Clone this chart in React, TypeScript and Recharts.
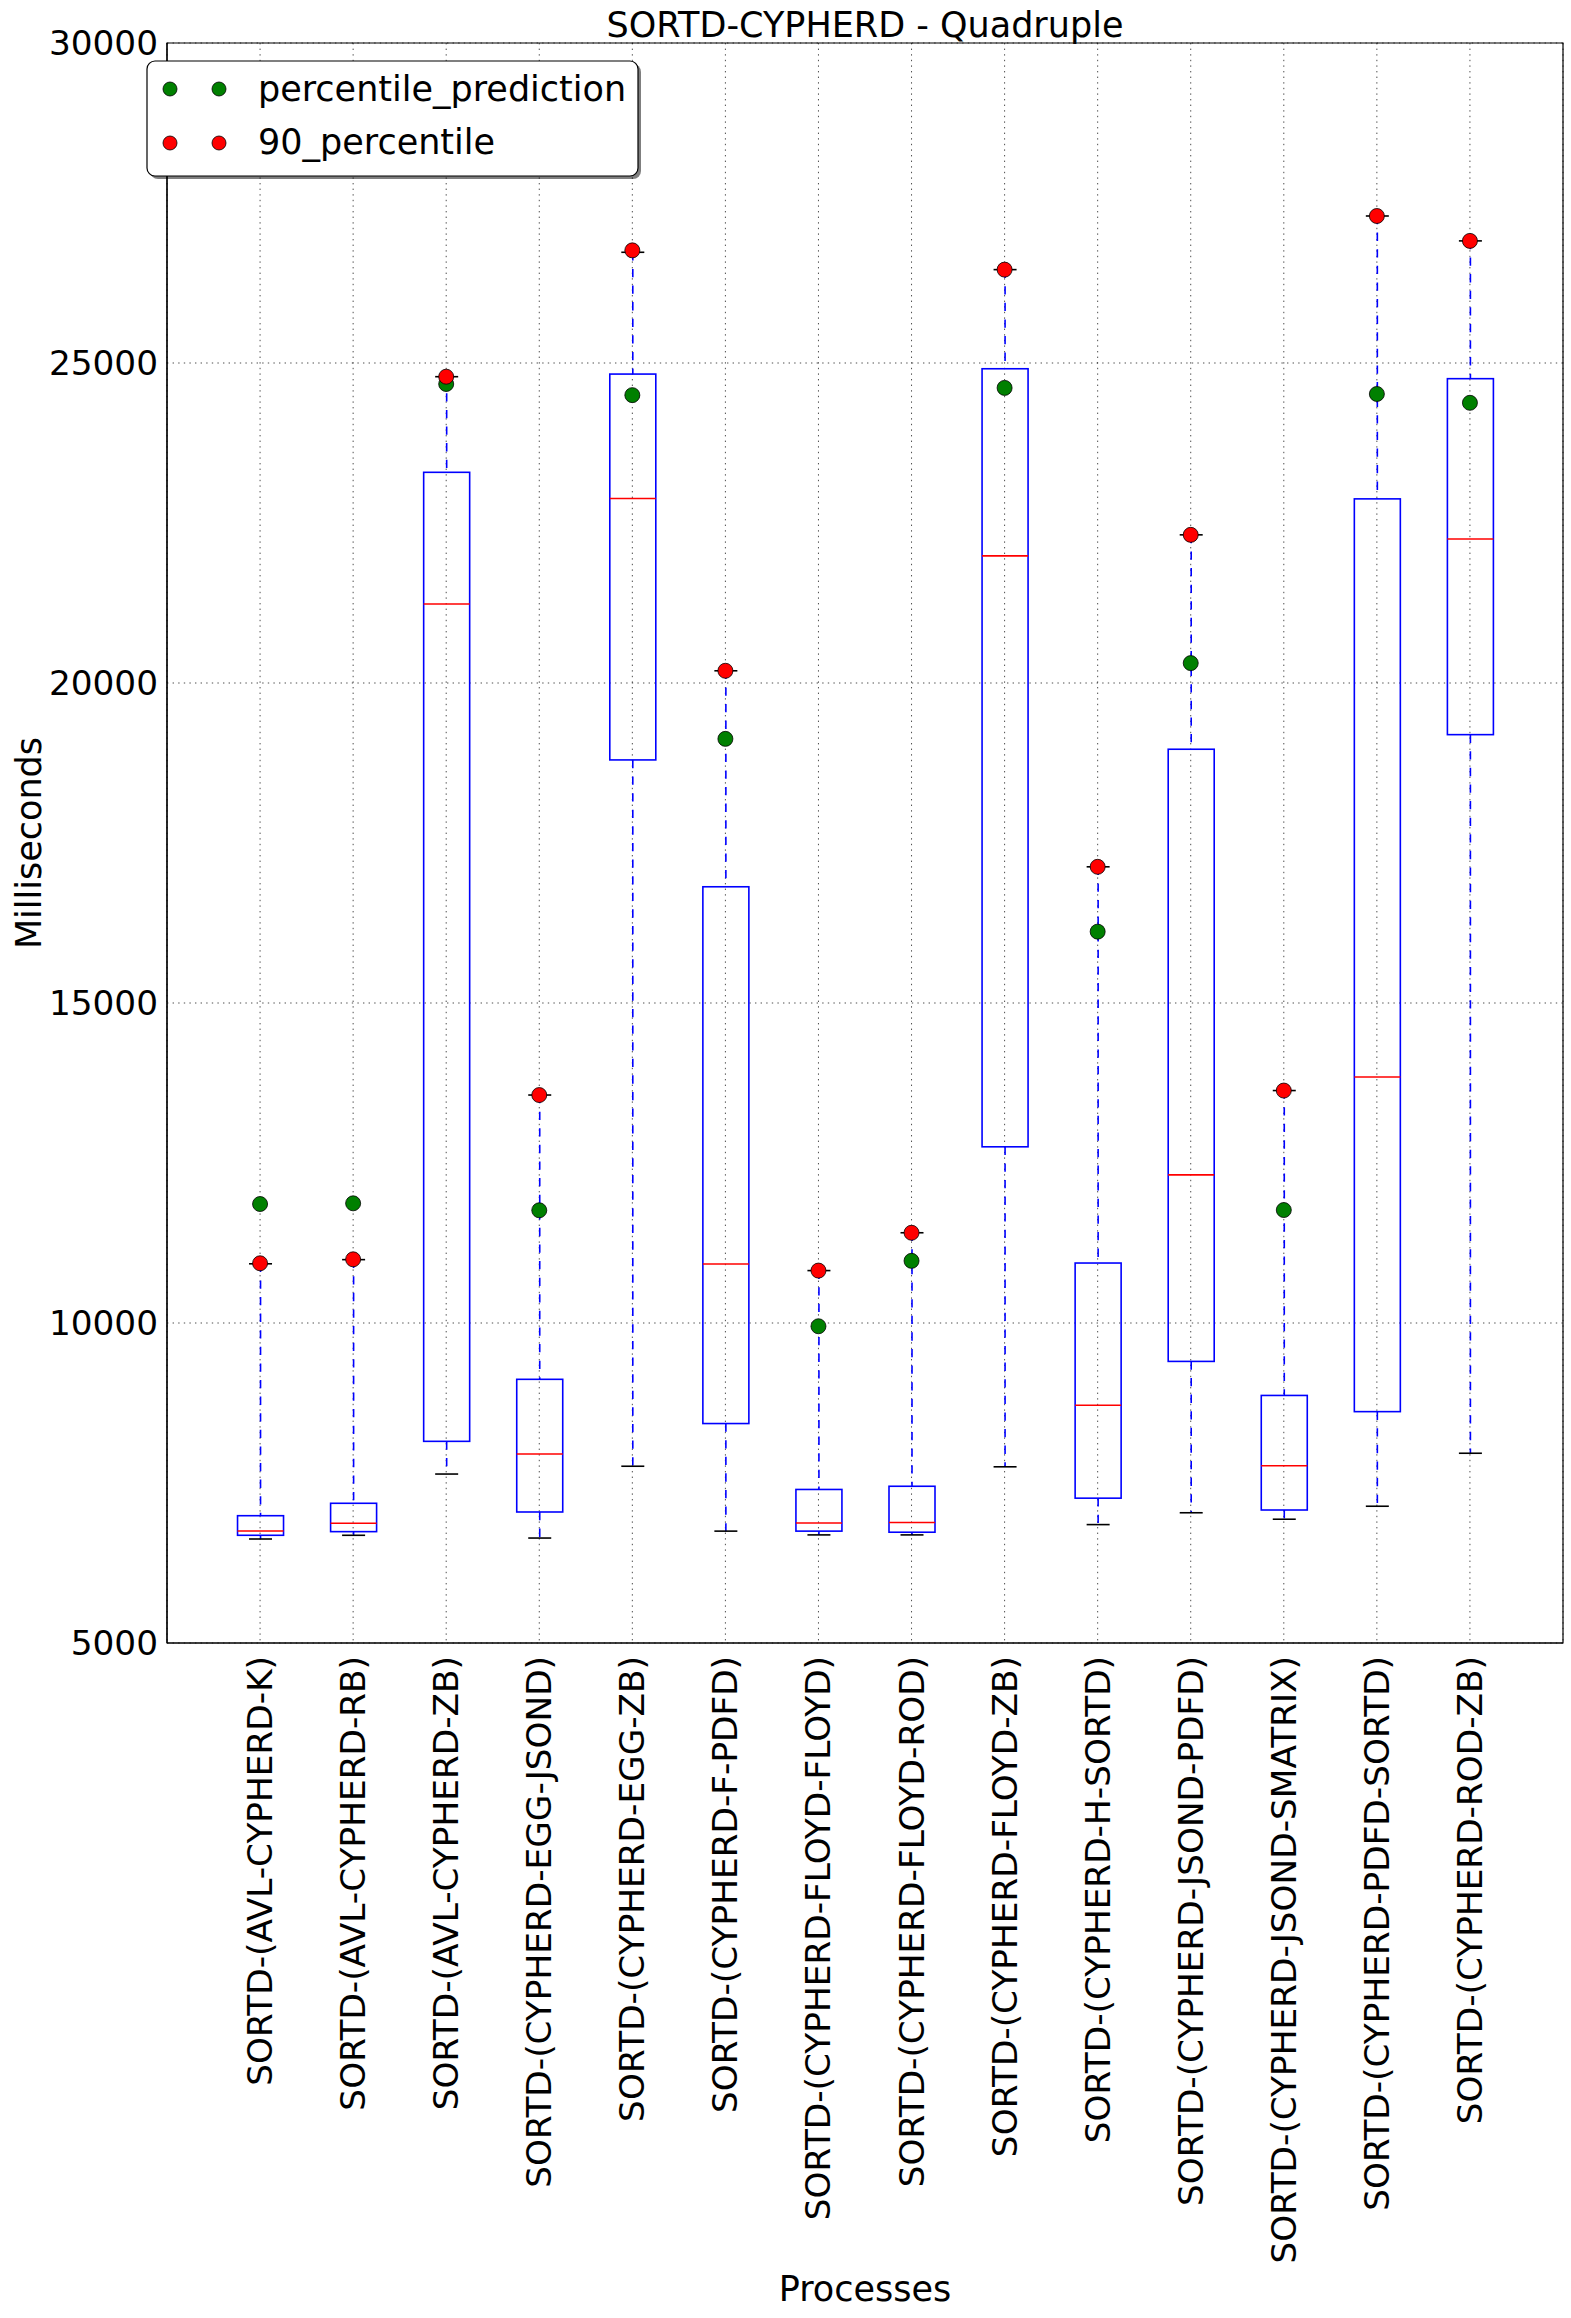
import React from "react";
import {
  ComposedChart,
  Bar,
  Scatter,
  XAxis,
  YAxis,
  CartesianGrid,
  ReferenceArea,
} from "recharts";

const CATEGORIES = [
  "SORTD-(AVL-CYPHERD-K)",
  "SORTD-(AVL-CYPHERD-RB)",
  "SORTD-(AVL-CYPHERD-ZB)",
  "SORTD-(CYPHERD-EGG-JSOND)",
  "SORTD-(CYPHERD-EGG-ZB)",
  "SORTD-(CYPHERD-F-PDFD)",
  "SORTD-(CYPHERD-FLOYD-FLOYD)",
  "SORTD-(CYPHERD-FLOYD-ROD)",
  "SORTD-(CYPHERD-FLOYD-ZB)",
  "SORTD-(CYPHERD-H-SORTD)",
  "SORTD-(CYPHERD-JSOND-PDFD)",
  "SORTD-(CYPHERD-JSOND-SMATRIX)",
  "SORTD-(CYPHERD-PDFD-SORTD)",
  "SORTD-(CYPHERD-ROD-ZB)",
];

const WHISKER_LOW = [6625, 6683, 7640, 6640, 7762, 6748, 6689, 6689, 7753, 6850, 7035, 6934, 7137, 7965];
const Q1 = [6683, 6740, 8151, 7047, 18798, 8429, 6748, 6731, 12753, 7263, 9400, 7078, 8615, 19193];
const MEDIAN = [6750, 6870, 21234, 7953, 22883, 10921, 6875, 6883, 21986, 8716, 12314, 7770, 13843, 22249];
const Q3 = [6989, 7183, 23292, 9120, 24827, 16816, 7399, 7449, 24910, 10937, 18965, 8868, 22877, 24755];
const WHISKER_HIGH = [10925, 10990, 24786, 13562, 26730, 20191, 10819, 11410, 26459, 17128, 22315, 13632, 27297, 26908];
const PERCENTILE_PREDICTION = [11859, 11870, 24672, 11761, 24498, 19127, 9949, 10971, 24611, 16115, 20311, 11765, 24516, 24378];
const PERCENTILE_90 = [10933, 10995, 24786, 13562, 26760, 20191, 10819, 11410, 26459, 17128, 22315, 13632, 27297, 26908];

const Y_TICKS = [5000, 10000, 15000, 20000, 25000, 30000];
const POSITIONS = CATEGORIES.map((_, i) => i + 1);

const rows = CATEGORIES.map((name, i) => ({
  name,
  pos: i + 1,
  whisker: [WHISKER_LOW[i], WHISKER_HIGH[i]],
  q1: Q1[i],
  median: MEDIAN[i],
  q3: Q3[i],
  pred: PERCENTILE_PREDICTION[i],
  p90: PERCENTILE_90[i],
}));

const FONT = "'DejaVu Sans', sans-serif";

function BoxShape(props: any) {
  const { x, y, width, height, payload } = props;
  if (!payload) return null;
  const [lo, hi] = payload.whisker;
  const top = Math.min(y, y + height);
  const h = Math.abs(height);
  const py = (v: number) => top + ((hi - v) / (hi - lo)) * h;
  const cx = x + width / 2;
  const capHalf = width / 4;
  const yq1 = py(payload.q1);
  const yq3 = py(payload.q3);
  const ymed = py(payload.median);
  const ylo = py(lo);
  const yhi = py(hi);
  return (
    <g>
      <line x1={cx} x2={cx} y1={yhi} y2={yq3} stroke="#0000ff" strokeWidth={1.6} strokeDasharray="8.3 8.3" />
      <line x1={cx} x2={cx} y1={yq1} y2={ylo} stroke="#0000ff" strokeWidth={1.6} strokeDasharray="8.3 8.3" />
      <line x1={cx - capHalf} x2={cx + capHalf} y1={yhi} y2={yhi} stroke="#000" strokeWidth={1.6} />
      <line x1={cx - capHalf} x2={cx + capHalf} y1={ylo} y2={ylo} stroke="#000" strokeWidth={1.6} />
      <rect x={x} y={yq3} width={width} height={yq1 - yq3} fill="none" stroke="#0000ff" strokeWidth={1.6} />
      <line x1={x} x2={x + width} y1={ymed} y2={ymed} stroke="#ff0000" strokeWidth={1.6} />
    </g>
  );
}

function Dot(color: string) {
  return (props: any) => {
    const { cx, cy } = props;
    if (cx == null || cy == null) return null;
    return <circle cx={cx} cy={cy} r={7.5} fill={color} stroke="#000" strokeWidth={0.8} />;
  };
}

function XTick(props: any) {
  const { x, y, payload } = props;
  const label = CATEGORIES[payload.value - 1] ?? "";
  return (
    <text
      transform={`translate(${x},${y + 13}) rotate(-90)`}
      textAnchor="end"
      dominantBaseline="central"
      fontSize={34.3}
      fontFamily={FONT}
      fill="#000"
    >
      {label}
    </text>
  );
}

export default function App() {
  return (
    <div style={{ position: "relative", width: 1571, height: 2318 }}>
      <style>{"body{margin:0}"}</style>
      <ComposedChart
        width={1571}
        height={2318}
        data={rows}
        margin={{ top: 43, right: 8, bottom: 0, left: 0 }}
      >
        <CartesianGrid stroke="#000" strokeWidth={0.7} strokeDasharray="1.4 4.2" />
        <XAxis
          type="number"
          dataKey="pos"
          domain={[0, 15]}
          ticks={POSITIONS}
          interval={0}
          height={675}
          tickLine={false}
          tickSize={0}
          tickMargin={0}
          axisLine={{ stroke: "#000", strokeWidth: 1.2 }}
          tick={<XTick />}
        />
        <YAxis
          type="number"
          domain={[5000, 30000]}
          ticks={Y_TICKS}
          interval={0}
          width={167}
          tickLine={false}
          tickSize={0}
          tickMargin={9}
          axisLine={{ stroke: "#000", strokeWidth: 1.2 }}
          tick={{ fontSize: 34.3, fill: "#000", fontFamily: FONT }}
        />
        <ReferenceArea
          x1={0}
          x2={15}
          y1={5000}
          y2={30000}
          fill="none"
          stroke="#000"
          strokeWidth={1.2}
          ifOverflow="visible"
        />
        <Bar dataKey="whisker" barSize={46} shape={<BoxShape />} isAnimationActive={false} />
        <Scatter dataKey="pred" shape={Dot("#008000")} isAnimationActive={false} />
        <Scatter dataKey="p90" shape={Dot("#ff0000")} isAnimationActive={false} />
      </ComposedChart>
      <svg
        width={1571}
        height={2318}
        style={{ position: "absolute", left: 0, top: 0, pointerEvents: "none" }}
      >
        <text x={865} y={37} textAnchor="middle" fontSize={35} fontFamily={FONT} fill="#000">
          SORTD-CYPHERD - Quadruple
        </text>
        <text x={865} y={2301} textAnchor="middle" fontSize={35} fontFamily={FONT} fill="#000">
          Processes
        </text>
        <text
          transform="translate(41,843) rotate(-90)"
          textAnchor="middle"
          fontSize={35}
          fontFamily={FONT}
          fill="#000"
        >
          Milliseconds
        </text>
        <rect x={150} y={64} width={491} height={115} rx={8} fill="rgba(0,0,0,0.5)" />
        <rect x={147} y={61} width={491} height={115} rx={8} fill="#fff" stroke="#000" strokeWidth={1.2} />
        <circle cx={170} cy={89} r={7} fill="#008000" stroke="#000" strokeWidth={0.8} />
        <circle cx={219} cy={89} r={7} fill="#008000" stroke="#000" strokeWidth={0.8} />
        <text x={258} y={101} fontSize={35} fontFamily={FONT} fill="#000">
          percentile_prediction
        </text>
        <circle cx={170} cy={143} r={7} fill="#ff0000" stroke="#000" strokeWidth={0.8} />
        <circle cx={219} cy={143} r={7} fill="#ff0000" stroke="#000" strokeWidth={0.8} />
        <text x={258} y={154} fontSize={35} fontFamily={FONT} fill="#000">
          90_percentile
        </text>
      </svg>
    </div>
  );
}
